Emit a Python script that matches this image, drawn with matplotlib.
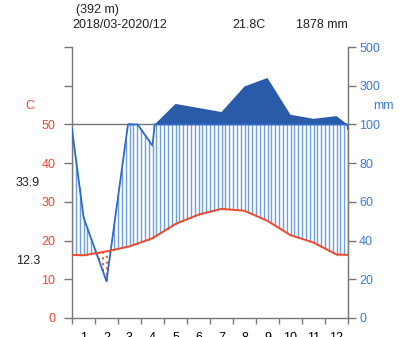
import numpy as np
import matplotlib
matplotlib.use('Agg')
import matplotlib.pyplot as plt

plt.rcParams['font.family'] = ['Liberation Sans', 'DejaVu Sans']
plt.rcParams['font.size'] = 9

# 月平均データ
months = ['1', '2', '3', '4', '5', '6', '7', '8', '9', '10', '11', '12']
temp = [16.2, 17.2, 18.5, 20.6, 24.3, 26.7, 28.2, 27.7, 25.1, 21.4, 19.5, 16.4]   # C
prec = [52, 19, 106, 89, 206, 185, 164, 296, 340, 150, 129, 143]                    # mm
header_alt = '(392 m)'
header_period = '2018/03-2020/12'
header_temp = '21.8C'
header_prec = '1878 mm'
t_max_label = '33.9'
t_min_label = '12.3'
left_ticks = [0, 10, 20, 30, 40, 50, 60, 70]
left_labels = ['0', '10', '20', '30', '40', '50', '', '']
right_labels = ['0', '20', '40', '60', '80', '100', '300', '500']

RED = '#ee4a2b'
BLUE_TXT = '#3a7bd6'
BLUE_LINE = '#2f69c6'
BLUE_DARK = '#2a5ba8'
BLUE_HATCH = '#6e9fe3'
GRAY = '#777777'


def scale_prec(p):
    """mm -> 温度軸の単位 (100mm以上は 1/10 縮尺)"""
    p = np.asarray(p, dtype=float)
    return np.where(p <= 100, p / 2.0, 50 + (p - 100) / 20.0)


# 月の中央に配置し、両端は12月と1月の平均で延長
xm = np.concatenate([[0], np.arange(12) + 0.5, [12]])
t_ext = np.concatenate([[(temp[0] + temp[-1]) / 2], temp, [(temp[0] + temp[-1]) / 2]])
p_ext = np.concatenate([[(prec[0] + prec[-1]) / 2], prec, [(prec[0] + prec[-1]) / 2]])

xf = np.linspace(0, 12, 2401)
tf = np.interp(xf, xm, t_ext)
pf = scale_prec(np.interp(xf, xm, p_ext))

fig = plt.figure(figsize=(4.03, 3.37), dpi=100, facecolor='white')
ax = fig.add_axes([72 / 403, 19 / 337, 276 / 403, 271 / 337])
ax.set_xlim(0, 12)
ax.set_ylim(0, 70)

# 50 の水平線
ax.axhline(50, color=GRAY, lw=1.0, zorder=1)

# 湿潤期・乾燥期のハッチング
xh = np.arange(0, 73) / 6.0
th = np.interp(xh, xf, tf)
ph = np.interp(xh, xf, pf)
for x, t, p in zip(xh, th, ph):
    if p > t:
        ax.plot([x, x], [t, min(p, 50)], color=BLUE_HATCH, lw=1.0, zorder=2)
    else:
        ax.plot([x, x], [p, t], color=RED, lw=1.3, ls=(0, (1.2, 2.0)), zorder=2)

# 100mm 以上の部分
ax.fill_between(xf, 50, pf, where=pf > 50, color=BLUE_DARK, lw=0, zorder=3)

# 降水量・気温の線
ax.plot(xf, np.minimum(pf, 50), color=BLUE_LINE, lw=1.3, zorder=4)
ax.plot(xm, t_ext, color=RED, lw=1.4, zorder=5)

# 軸
ax.spines['top'].set_visible(False)
for s in ['left', 'right', 'bottom']:
    ax.spines[s].set_color(GRAY)
    ax.spines[s].set_linewidth(1.0)
ax.set_xticks(np.arange(13))
ax.set_xticklabels([])
ax.set_xticks(np.arange(12) + 0.5, minor=True)
ax.set_xticklabels(months, minor=True)
ax.tick_params(axis='x', which='major', length=4.5, color=GRAY, width=1.0)
ax.tick_params(axis='x', which='minor', length=0, pad=10)
ax.set_yticks(left_ticks)
ax.set_yticklabels(left_labels)
ax.tick_params(axis='y', length=6, color=GRAY, width=1.0, labelcolor=RED, pad=6)

ax2 = ax.twinx()
ax2.set_ylim(0, 70)
ax2.set_yticks(left_ticks)
ax2.set_yticklabels(right_labels)
ax2.tick_params(axis='y', length=6, color=GRAY, width=1.0, labelcolor=BLUE_TXT, pad=2)
for s in ['top', 'left', 'bottom']:
    ax2.spines[s].set_visible(False)
ax2.spines['right'].set_color(GRAY)

# ラベル
fig.text(30 / 403, 1 - 106 / 337, 'C', color=RED, ha='center', va='center')
fig.text(383 / 403, 1 - 106 / 337, 'mm', color=BLUE_TXT, ha='center', va='center')
fig.text(40 / 403, 1 - 183 / 337, t_max_label, color='#222222', ha='right', va='center')
fig.text(40 / 403, 1 - 261 / 337, t_min_label, color='#222222', ha='right', va='center')

# ヘッダー
fig.text(76 / 403, 1 - 10 / 337, header_alt, color='#222222', ha='left', va='center')
fig.text(72 / 403, 1 - 25 / 337, header_period, color='#222222', ha='left', va='center')
fig.text(249 / 403, 1 - 25 / 337, header_temp, color='#222222', ha='center', va='center')
fig.text(348 / 403, 1 - 25 / 337, header_prec, color='#222222', ha='right', va='center')

fig.savefig('out.png', dpi=100, facecolor='white')
